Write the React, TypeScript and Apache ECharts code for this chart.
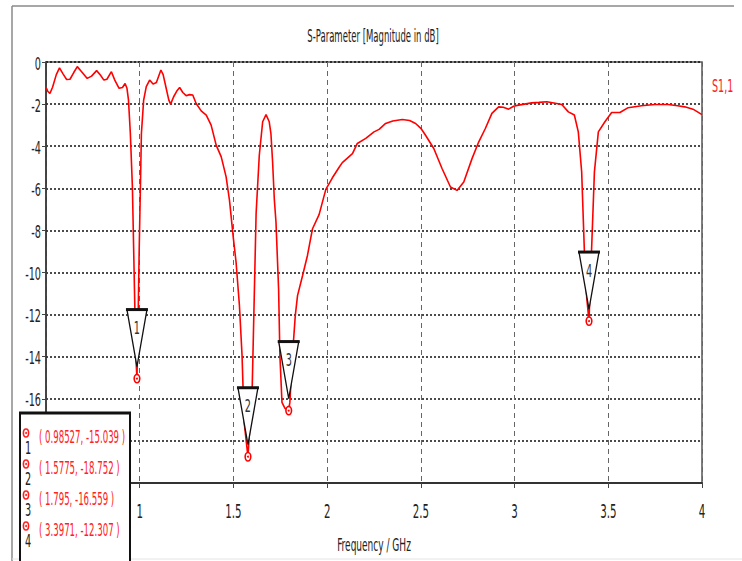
import React, { useEffect, useRef } from "react";
import * as echarts from "echarts";

const FONT = "'Liberation Sans Narrow', 'DejaVu Sans Condensed', 'Arial Narrow', sans-serif";

const TITLE = "S-Parameter [Magnitude in dB]";
const X_NAME = "Frequency / GHz";
const SERIES_NAME = "S1,1";

const xTickLabels: number[] = [1, 1.5, 2, 2.5, 3, 3.5, 4];
const yTickLabels: number[] = [0, -2, -4, -6, -8, -10, -12, -14, -16];

const freq: number[] = [
  0.5, 0.51, 0.521, 0.535, 0.555, 0.572, 0.59, 0.61, 0.628, 0.648, 0.667, 0.69, 0.72, 0.743, 0.77, 0.79,
  0.809, 0.825, 0.849, 0.867, 0.89, 0.908, 0.922, 0.932, 0.94, 0.95, 0.961, 0.972, 0.979, 0.98527, 0.991,
  0.997, 1.004, 1.009, 1.021, 1.035, 1.053, 1.071, 1.089, 1.1, 1.113, 1.125, 1.14, 1.155, 1.165, 1.181,
  1.2, 1.213, 1.23, 1.248, 1.265, 1.283, 1.301, 1.328, 1.355, 1.381, 1.408, 1.435, 1.461, 1.479, 1.5,
  1.514, 1.532, 1.546, 1.557, 1.5775, 1.6, 1.612, 1.621, 1.638, 1.656, 1.674, 1.691, 1.7, 1.709, 1.718,
  1.727, 1.741, 1.748, 1.759, 1.775, 1.795, 1.801, 1.815, 1.83, 1.842, 1.869, 1.895, 1.922, 1.957, 1.993,
  2.028, 2.064, 2.081, 2.135, 2.161, 2.206, 2.25, 2.277, 2.312, 2.35, 2.401, 2.44, 2.472, 2.5, 2.525,
  2.569, 2.613, 2.658, 2.693, 2.729, 2.773, 2.809, 2.844, 2.879, 2.915, 2.94, 2.968, 2.995, 3.021, 3.092,
  3.13, 3.172, 3.21, 3.252, 3.287, 3.319, 3.34, 3.358, 3.372, 3.385, 3.3971, 3.403, 3.411, 3.426, 3.447,
  3.482, 3.518, 3.562, 3.606, 3.677, 3.748, 3.819, 3.87, 3.908, 3.952, 4.0,
];

const s11: number[] = [
  -1.2, -1.4, -1.49, -1.2, -0.6, -0.28, -0.55, -0.83, -0.82, -0.5, -0.22, -0.46, -0.78, -0.67, -0.41, -0.62,
  -0.86, -0.82, -0.46, -0.86, -1.25, -1.21, -1.02, -1.25, -1.8, -3.4, -5.94, -10.8, -13.9, -15.039, -12.5,
  -9.0, -5.8, -3.4, -1.81, -1.17, -0.86, -1.05, -0.97, -0.7, -0.38, -0.6, -1.2, -1.8, -2.0, -1.65,
  -1.35, -1.21, -1.45, -1.6, -1.55, -1.57, -1.97, -2.32, -2.52, -3.0, -3.95, -4.51, -5.46, -6.57, -8.4,
  -9.5, -11.57, -13.95, -17.1, -18.752, -15.54, -10.78, -7.2, -4.43, -2.84, -2.5, -2.84, -3.4, -4.75, -6.5,
  -7.6, -10.78, -13.95, -16.17, -16.45, -16.559, -16.17, -13.95, -12.05, -11.1, -10.14, -9.19, -7.92, -7.25, -6.05,
  -5.5, -5.0, -4.78, -4.35, -3.87, -3.63, -3.32, -3.2, -2.92, -2.8, -2.73, -2.78, -2.92, -3.15, -3.48,
  -4.11, -5.06, -5.94, -6.1, -5.7, -4.59, -3.79, -3.16, -2.44, -2.13, -2.15, -2.24, -2.1, -2.05, -1.94,
  -1.92, -1.89, -1.95, -2.02, -2.37, -2.52, -3.32, -5.22, -8.87, -11.2, -12.307, -10.78, -8.87, -5.22, -3.32,
  -2.84, -2.4, -2.4, -2.17, -2.08, -2.02, -2.02, -2.08, -2.13, -2.24, -2.5,
];

const markerFreq: number[] = [0.98527, 1.5775, 1.795, 3.3971];
const markerDb: number[] = [-15.039, -18.752, -16.559, -12.307];
const markerIds: number[] = [1, 2, 3, 4];

export default function App() {
  const ref = useRef<HTMLDivElement>(null);

  useEffect(() => {
    if (!ref.current) return;
    const chart = echarts.init(ref.current, undefined, { renderer: "svg" });

    const lineData = freq.map((f, i) => [f, s11[i]]);
    const markerData = markerFreq.map((f, i) => [f, markerDb[i], markerIds[i]]);

    const option: any = {
      animation: false,
      backgroundColor: "#fff",
      grid: {
        left: 46,
        top: 62,
        width: 656,
        height: 421,
        show: true,
        borderColor: "#555",
        borderWidth: 1.5,
        containLabel: false,
      },
      xAxis: {
        type: "value",
        min: 0.5,
        max: 4,
        interval: 0.5,
        axisLine: { show: true, onZero: false, lineStyle: { color: "#333", width: 2 } },
        axisTick: { show: true, length: 5, lineStyle: { color: "#444" } },
        axisLabel: { show: false },
        splitLine: { show: true, lineStyle: { color: "#666", type: [5, 4], width: 1 } },
      },
      yAxis: {
        type: "value",
        min: -20,
        max: 0,
        interval: 2,
        axisLine: { show: true, lineStyle: { color: "#333", width: 1.5 } },
        axisTick: { show: true, length: 4, lineStyle: { color: "#444" } },
        axisLabel: { show: false },
        splitLine: { show: true, lineStyle: { color: "#111", type: [2, 2], width: 1.5 } },
      },
      series: [
        {
          name: SERIES_NAME,
          type: "line",
          data: lineData,
          showSymbol: false,
          symbol: "none",
          lineStyle: { color: "#ff0000", width: 1.6 },
          z: 3,
        },
        {
          type: "custom",
          coordinateSystem: "cartesian2d",
          data: markerData,
          encode: { x: 0, y: 1 },
          clip: false,
          z: 5,
          renderItem: (params: any, api: any) => {
            const p = api.coord([api.value(0), api.value(1)]);
            const id = api.value(2);
            const apexY = p[1] - 12;
            const topY = apexY - 57;
            return {
              type: "group",
              children: [
                {
                  type: "polygon",
                  shape: { points: [[p[0] - 10, topY], [p[0] + 10, topY], [p[0], apexY]] },
                  style: { fill: "#fff", stroke: "#111", lineWidth: 1.3 },
                },
                {
                  type: "line",
                  shape: { x1: p[0] - 11, y1: topY, x2: p[0] + 11, y2: topY },
                  style: { stroke: "#111", lineWidth: 3 },
                },
                {
                  type: "text",
                  x: p[0],
                  y: topY + 18,
                  scaleX: 0.6,
                  style: { text: String(id), fill: "#333", font: `18px ${FONT}`, align: "center", verticalAlign: "middle" },
                },
                {
                  type: "ellipse",
                  shape: { cx: p[0], cy: p[1], rx: 2.8, ry: 4.2 },
                  style: { fill: "#fff", stroke: "#ff0000", lineWidth: 1.6 },
                },
                {
                  type: "circle",
                  shape: { cx: p[0], cy: p[1], r: 1 },
                  style: { fill: "#ff0000" },
                },
              ],
            };
          },
        },
      ],
    };

    chart.setOption(option);

    // tick labels placed through the axes' own scales
    const toX = (v: number) => chart.convertToPixel({ xAxisIndex: 0 }, v) as number;
    const toY = (v: number) => chart.convertToPixel({ yAxisIndex: 0 }, v) as number;
    const axisBottom = toY(-20);
    const axisLeft = toX(0.5);

    const tickTexts: any[] = [];
    xTickLabels.forEach((v) => {
      tickTexts.push({
        type: "text",
        z: 10,
        x: toX(v),
        y: axisBottom + 28,
        scaleX: 0.6,
        style: { text: String(v), fill: "#222", font: `19px ${FONT}`, align: "center", verticalAlign: "middle" },
      });
    });
    yTickLabels.forEach((v) => {
      tickTexts.push({
        type: "text",
        z: 10,
        x: axisLeft - 5,
        y: toY(v) + 1,
        scaleX: 0.6,
        style: { text: String(v), fill: "#222", font: `18px ${FONT}`, align: "right", verticalAlign: "middle" },
      });
    });

    const Z = 100;
    const legendElements: any[] = [
      {
        type: "rect",
        z: Z,
        shape: { x: 20, y: 413, width: 110, height: 150 },
        style: { fill: "#ffffff", stroke: "#111", lineWidth: 2 },
      },
      {
        type: "line",
        z: Z + 1,
        shape: { x1: 19, y1: 413, x2: 131, y2: 413 },
        style: { stroke: "#111", lineWidth: 3 },
      },
    ];
    markerIds.forEach((id, i) => {
      const y0 = 437 + 31 * i;
      legendElements.push(
        {
          type: "ellipse",
          z: Z + 1,
          shape: { cx: 26, cy: y0 - 4, rx: 2.6, ry: 4 },
          style: { fill: "#fff", stroke: "#ff2020", lineWidth: 1.6 },
        },
        {
          type: "circle",
          z: Z + 2,
          shape: { cx: 26, cy: y0 - 4, r: 1 },
          style: { fill: "#ff2020" },
        },
        {
          type: "text",
          z: Z + 1,
          x: 28,
          y: y0 + 10,
          scaleX: 0.6,
          style: { text: String(id), fill: "#222", font: `18px ${FONT}`, align: "center", verticalAlign: "middle" },
        },
        {
          type: "text",
          z: Z + 1,
          x: 39,
          y: y0,
          scaleX: 0.53,
          style: {
            text: `( ${markerFreq[i]}, ${markerDb[i]} )`,
            fill: "#ff2020",
            font: `18px ${FONT}`,
            align: "left",
            verticalAlign: "middle",
          },
        }
      );
    });

    chart.setOption({
      graphic: [
        {
          type: "line",
          z: 1,
          shape: { x1: 12, y1: 6, x2: 734, y2: 6 },
          style: { stroke: "#8a8a8a", lineWidth: 1.5 },
        },
        {
          type: "line",
          z: 1,
          shape: { x1: 12, y1: 6, x2: 12, y2: 561 },
          style: { stroke: "#8a8a8a", lineWidth: 1.5 },
        },
        {
          type: "line",
          z: 1,
          shape: { x1: 12, y1: 559, x2: 742, y2: 559 },
          style: { stroke: "#e4e4e4", lineWidth: 1 },
        },
        {
          type: "text",
          z: 10,
          x: 373,
          y: 36,
          scaleX: 0.556,
          style: { text: TITLE, fill: "#222", font: `17px ${FONT}`, align: "center", verticalAlign: "middle" },
        },
        {
          type: "text",
          z: 10,
          x: 374,
          y: 545,
          scaleX: 0.59,
          style: { text: X_NAME, fill: "#222", font: `17px ${FONT}`, align: "center", verticalAlign: "middle" },
        },
        {
          type: "text",
          z: 10,
          x: 712,
          y: 85,
          scaleX: 0.59,
          style: { text: SERIES_NAME, fill: "#ff2020", font: `18px ${FONT}`, align: "left", verticalAlign: "middle" },
        },
        ...tickTexts,
        ...legendElements,
      ],
    });

    return () => chart.dispose();
  }, []);

  return (
    <div
      ref={ref}
      style={{ position: "fixed", left: 0, top: 0, width: 742, height: 561, background: "#fff" }}
    />
  );
}
